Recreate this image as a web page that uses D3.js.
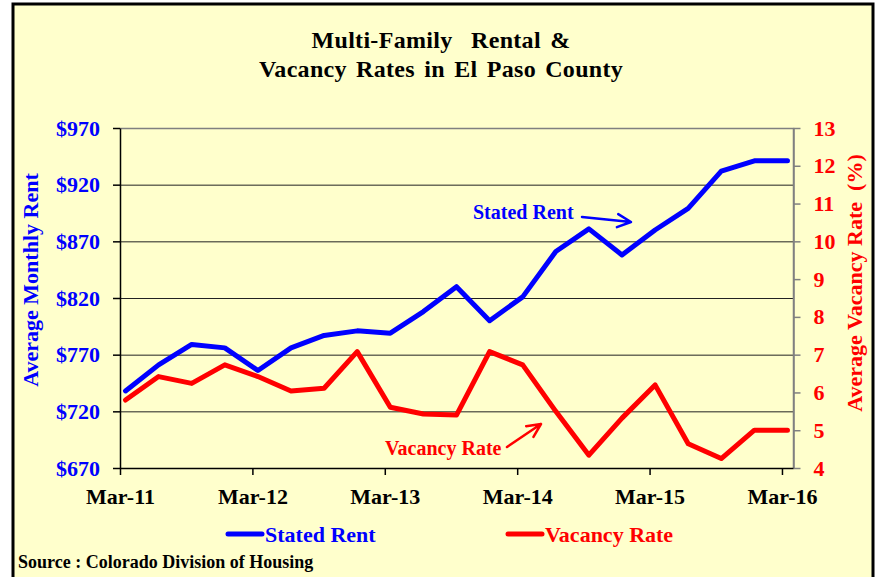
<!DOCTYPE html>
<html>
<head>
<meta charset="utf-8">
<script src="https://cdn.jsdelivr.net/npm/d3@7"></script>
<style>
  body { margin: 0; background: #fff; }
  svg { display: block; font-family: "Liberation Serif", "Times New Roman", serif; font-weight: bold; }
</style>
</head>
<body>
<div class="chart"></div>
<script>
// quarterly observations, Mar-11 .. Mar-16
const quarters = ["Mar-11","Jun-11","Sep-11","Dec-11","Mar-12","Jun-12","Sep-12","Dec-12",
                  "Mar-13","Jun-13","Sep-13","Dec-13","Mar-14","Jun-14","Sep-14","Dec-14",
                  "Mar-15","Jun-15","Sep-15","Dec-15","Mar-16"];
const statedRent = [738, 761, 779, 776, 756, 776, 787, 791, 789, 808, 830, 800,
                    821, 861, 881, 858, 880, 899, 932, 941, 941];
const vacancyRate = [5.8, 6.42, 6.24, 6.73, 6.42, 6.04, 6.11, 7.08, 5.61, 5.43, 5.4, 7.08,
                     6.73, 5.5, 4.34, 5.32, 6.2, 4.64, 4.25, 5.0, 5.0];
const rentTicks = [670, 720, 770, 820, 870, 920, 970];
const rateTicks = [4, 5, 6, 7, 8, 9, 10, 11, 12, 13];
const yearTicks = ["Mar-11","Mar-12","Mar-13","Mar-14","Mar-15","Mar-16"];

const colourRent = "#0000ff",
      colourRate = "#ff0000",
      bg = "#ffffcc";

const width = 876,
      height = 577,
      margin = {top: 128, right: 83, bottom: 109, left: 120};

const parse = d3.utcParse("%b-%y");
const start = parse(quarters[0]);
// date axis with a month base unit: every month gets one equal slot
let month = d => d3.utcMonth.count(start, parse(d));
let nMonths = month(quarters[quarters.length - 1]) + 1;

let x = d3.scaleLinear()
  .domain([0, nMonths])
  .range([margin.left, width - margin.right]);
let yL = d3.scaleLinear()
  .domain([670, 970])
  .range([height - margin.bottom, margin.top]);
let yR = d3.scaleLinear()
  .domain([4, 13])
  .range([height - margin.bottom, margin.top]);

let svg = d3.select(".chart")
  .append("svg")
    .attr("width", width)
    .attr("height", height);

// chart frame
svg.append("rect")
  .attr("x", 13).attr("y", 4)
  .attr("width", 860).attr("height", height + 10)
  .attr("fill", bg)
  .attr("stroke", "#000")
  .attr("stroke-width", 3);

// title
svg.append("g")
    .attr("font-size", 24)
    .attr("text-anchor", "middle")
  .selectAll("text")
  .data(["Multi-Family  Rental &", "Vacancy Rates in El Paso County"])
  .join("text")
    .attr("x", 441)
    .attr("y", (d, i) => 48 + i * 29)
    .attr("letter-spacing", 0.3)
    .attr("word-spacing", 3)
    .style("white-space", "pre")
    .text(d => d);

// gridlines
svg.append("g")
    .attr("stroke", "#222")
    .attr("stroke-width", 1)
  .selectAll("line")
  .data(rentTicks.slice(1, -1))
  .join("line")
    .attr("x1", margin.left).attr("x2", width - margin.right)
    .attr("y1", d => yL(d) + 0.5).attr("y2", d => yL(d) + 0.5);

// plot border top/right in grey
svg.append("path")
  .attr("d", `M${margin.left},${margin.top + 0.5}H${width - margin.right + 0.5}V${height - margin.bottom}`)
  .attr("fill", "none")
  .attr("stroke", "#808080")
  .attr("stroke-width", 1.5);

// axes
let gL = svg.append("g")
  .attr("transform", `translate(${margin.left},0)`)
  .call(d3.axisLeft(yL).tickValues(rentTicks).tickFormat(d => "$" + d).tickSize(7).tickPadding(13).tickSizeOuter(0));
gL.selectAll("text").attr("fill", colourRent);

let gR = svg.append("g")
  .attr("transform", `translate(${width - margin.right + 0.5},0)`)
  .call(d3.axisRight(yR).tickValues(rateTicks).tickSize(7).tickPadding(13).tickSizeOuter(0));
gR.selectAll("text").attr("fill", colourRate);
gR.selectAll("line, path").attr("stroke", "#808080").attr("stroke-width", 1.5);

let gB = svg.append("g")
  .attr("transform", `translate(0,${height - margin.bottom})`)
  .call(d3.axisBottom(x).tickValues(yearTicks.map(month)).tickFormat((d, i) => yearTicks[i]).tickSize(7).tickPadding(13).tickSizeOuter(0));
gB.selectAll("text").attr("fill", "#000");

svg.selectAll(".tick text")
  .attr("font-family", "Liberation Serif, Times New Roman, serif")
  .attr("font-weight", "bold")
  .attr("font-size", 22);
svg.selectAll(".domain").attr("stroke-width", 1.5);
gL.selectAll(".tick line").attr("stroke-width", 1.5);
gB.selectAll(".tick line").attr("stroke-width", 1.5);

// axis titles
svg.append("text")
  .attr("transform", "translate(30,280) rotate(-90)")
  .attr("dy", "0.35em")
  .attr("text-anchor", "middle")
  .attr("font-size", 22)
  .attr("fill", colourRent)
  .text("Average Monthly Rent");

svg.append("text")
  .attr("transform", "translate(854,283) rotate(-90)")
  .attr("dy", "0.35em")
  .attr("text-anchor", "middle")
  .attr("font-size", 22)
  .attr("fill", colourRate)
  .style("white-space", "pre")
  .text("Average Vacancy Rate  (%)");

// series
let px = (d, i) => x(month(quarters[i]) + 0.5);
let lineRent = d3.line().x(px).y(d => yL(d));
let lineRate = d3.line().x(px).y(d => yR(d));

svg.append("path")
  .datum(vacancyRate)
  .attr("d", lineRate)
  .attr("fill", "none")
  .attr("stroke", colourRate)
  .attr("stroke-width", 5)
  .attr("stroke-linejoin", "round")
  .attr("stroke-linecap", "round");

svg.append("path")
  .datum(statedRent)
  .attr("d", lineRent)
  .attr("fill", "none")
  .attr("stroke", colourRent)
  .attr("stroke-width", 5)
  .attr("stroke-linejoin", "round")
  .attr("stroke-linecap", "round");

// in-chart labels with arrows
function arrow(x1, y1, x2, y2, colour) {
  let a = Math.atan2(y2 - y1, x2 - x1), l = 15, s = 0.45;
  svg.append("path")
    .attr("d", `M${x1},${y1}L${x2},${y2}` +
      `M${x2 - l * Math.cos(a - s)},${y2 - l * Math.sin(a - s)}L${x2},${y2}` +
      `L${x2 - l * Math.cos(a + s)},${y2 - l * Math.sin(a + s)}`)
    .attr("fill", "none")
    .attr("stroke", colour)
    .attr("stroke-width", 2.5)
    .attr("stroke-linecap", "round")
    .attr("stroke-linejoin", "round");
}

svg.append("text")
  .attr("x", 473).attr("y", 219)
  .attr("font-size", 20)
  .attr("fill", colourRent)
  .text("Stated Rent");
arrow(582, 217, 631, 222, colourRent);

svg.append("text")
  .attr("x", 385).attr("y", 455)
  .attr("font-size", 20)
  .attr("fill", colourRate)
  .text("Vacancy Rate");
arrow(507, 447, 541, 424, colourRate);

// legend
let legend = svg.append("g")
  .attr("font-size", 22)
  .selectAll("g")
  .data([["Stated Rent", colourRent, 228], ["Vacancy Rate", colourRate, 508]])
  .join("g")
    .attr("transform", d => `translate(${d[2]},534)`);
legend.append("line")
  .attr("x1", 0).attr("x2", 34)
  .attr("stroke", d => d[1])
  .attr("stroke-width", 5)
  .attr("stroke-linecap", "round");
legend.append("text")
  .attr("x", 37).attr("y", 8)
  .attr("fill", d => d[1])
  .text(d => d[0]);

// source
svg.append("text")
  .attr("x", 18).attr("y", 568)
  .attr("font-size", 18)
  .text("Source : Colorado Division of Housing");
</script>
</body>
</html>
